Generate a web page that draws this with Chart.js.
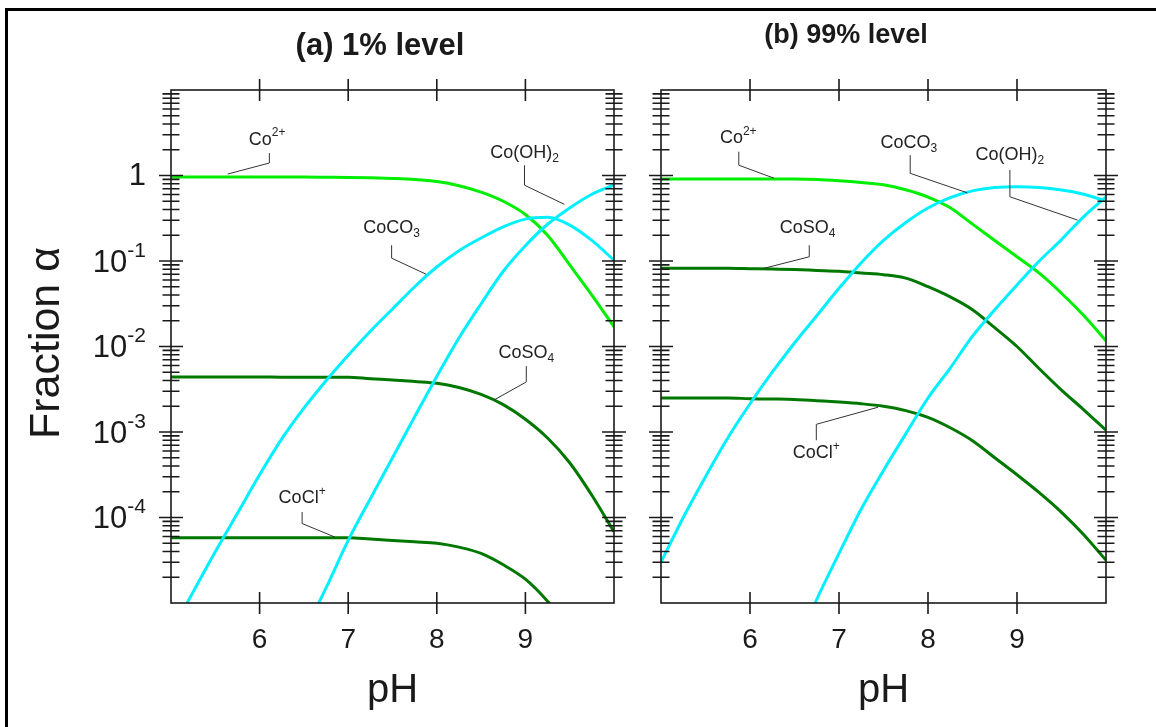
<!DOCTYPE html>
<html lang="en">
<head>
  <meta charset="UTF-8">
  <title>Co species fraction vs pH</title>
  <style>
    /* page and outer frame */
    body {
      margin: 0;
      background: #fff;
      overflow: hidden;
      width: 1156px;
      height: 727px;
    }
    .frame {
      position: absolute;
      left: 5px;
      top: 8px;
      width: 1300px;
      height: 900px;
      border-left: 3px solid #000;
      border-top: 3px solid #000;
    }
    canvas {
      position: absolute;
      top: 0;
    }
    #chartA { left: 0; }
    #chartB { left: 620px; }
  </style>
</head>
<body>
  <div class="frame"></div>
  <canvas id="chartA" width="640" height="727"></canvas>
  <canvas id="chartB" width="536" height="727"></canvas>

  <script src="https://cdn.jsdelivr.net/npm/chart.js"></script>
  <script>
    // pH grid shared by every curve
    const pH = [5, 5.25, 5.5, 5.75, 6, 6.25, 6.5, 6.75, 7, 7.25, 7.5, 7.75,
                8, 8.25, 8.5, 8.75, 9, 9.25, 9.5, 9.75, 10];

    // (a) 1% level - fraction alpha
    const co2A   = [0.96, 0.96, 0.96, 0.96, 0.96, 0.96, 0.96, 0.955, 0.95, 0.94, 0.925, 0.9,
                    0.85, 0.76, 0.64, 0.5, 0.35, 0.2, 0.09, 0.04, 0.017];
    const coco3A = [4.5e-6, 1.35e-5, 3.98e-5, 1.12e-4, 3.16e-4, 8.3e-4, 1.9e-3, 3.98e-3, 7.9e-3, 0.0151, 0.0275, 0.05,
                    0.085, 0.132, 0.186, 0.251, 0.309, 0.324, 0.263, 0.174, 0.102];
    const cooh2A = [null, null, null, null, null, null, 4.5e-6, 1.5e-5, 5.4e-5, 1.66e-4, 5.0e-4, 1.51e-3,
                    4.47e-3, 0.0126, 0.0316, 0.0759, 0.151, 0.269, 0.417, 0.603, 0.776];
    const cosoA  = [4.4e-3, 4.4e-3, 4.4e-3, 4.4e-3, 4.4e-3, 4.37e-3, 4.37e-3, 4.37e-3, 4.37e-3, 4.2e-3, 4.07e-3, 3.9e-3,
                    3.72e-3, 3.31e-3, 2.75e-3, 2.09e-3, 1.41e-3, 8.5e-4, 4.37e-4, 1.82e-4, 6.8e-5];
    const coclA  = [5.8e-5, 5.8e-5, 5.8e-5, 5.8e-5, 5.8e-5, 5.8e-5, 5.8e-5, 5.8e-5, 5.8e-5, 5.6e-5, 5.4e-5, 5.2e-5,
                    5.0e-5, 4.5e-5, 3.8e-5, 2.8e-5, 1.9e-5, 1.05e-5, 5e-6, null, null];

    // (b) 99% level
    const co2B   = [0.91, 0.91, 0.91, 0.91, 0.91, 0.91, 0.91, 0.9, 0.87, 0.83, 0.78, 0.68,
                    0.56, 0.42, 0.27, 0.174, 0.112, 0.072, 0.042, 0.023, 0.0117];
    const coco3B = [3.0e-5, 1e-4, 3.0e-4, 8.5e-4, 2.14e-3, 5.0e-3, 0.011, 0.0229, 0.0479, 0.0955, 0.174, 0.282,
                    0.417, 0.55, 0.661, 0.724, 0.741, 0.724, 0.676, 0.603, 0.501];
    const cooh2B = [null, null, null, null, null, null, 2.8e-6, 1.1e-5, 3.8e-5, 1.26e-4, 3.55e-4, 9.5e-4,
                    2.5e-3, 5.6e-3, 0.0132, 0.0269, 0.0525, 0.1, 0.178, 0.331, 0.562];
    const cosoB  = [0.0822, 0.0822, 0.0822, 0.0822, 0.0813, 0.0804, 0.0794, 0.0776, 0.0759, 0.0724, 0.0692, 0.0631,
                    0.0501, 0.038, 0.0269, 0.0166, 0.01, 0.0055, 0.00309, 0.00182, 0.00105];
    const coclB  = [2.5e-3, 2.5e-3, 2.5e-3, 2.5e-3, 2.45e-3, 2.43e-3, 2.4e-3, 2.32e-3, 2.24e-3, 2.14e-3, 2.0e-3, 1.78e-3,
                    1.48e-3, 1.12e-3, 7.9e-4, 5.0e-4, 3.16e-4, 1.95e-4, 1.15e-4, 6.3e-5, 3.16e-5];

    // axis ticks
    const xTicks = [6, 7, 8, 9];
    const yLabelExps = [0, -1, -2, -3, -4];

    // colours
    const LIME = '#00ee00';
    const CYAN = '#00f0ff';
    const DARK = '#007800';
    const FONT = '"Liberation Sans", Arial, sans-serif';

    // species labels with leader lines, positions in data units [pH, alpha]
    const notesA = [
      { parts: [['Co'], ['2+', 'sup']], at: [6.085, 2.6], path: [[6.11, 1.83], [6.11, 1.4], [5.64, 1.04]] },
      { parts: [['Co(OH)'], ['2', 'sub']], at: [8.99, 1.83], path: [[8.99, 1.32], [8.99, 0.77], [9.44, 0.46]] },
      { parts: [['CoCO'], ['3', 'sub']], at: [7.49, 0.243], path: [[7.49, 0.153], [7.49, 0.108], [7.88, 0.07]] },
      { parts: [['CoSO'], ['4', 'sub']], at: [9.01, 8.36e-3], path: [[9.01, 5.9e-3], [9.01, 3.85e-3], [8.64, 2.35e-3]] },
      { parts: [['CoCl'], ['+', 'sup']], at: [6.48, 1.68e-4], path: [[6.48, 1.16e-4], [6.48, 8.5e-5], [6.85, 5.9e-5]] }
    ];
    const notesB = [
      { parts: [['Co'], ['2+', 'sup']], at: [5.868, 2.74], path: [[5.874, 1.9], [5.874, 1.32], [6.27, 0.93]] },
      { parts: [['CoCO'], ['3', 'sub']], at: [7.784, 2.4], path: [[7.8, 1.73], [7.8, 1.06], [8.44, 0.628]] },
      { parts: [['Co(OH)'], ['2', 'sub']], at: [8.92, 1.73], path: [[8.92, 1.16], [8.92, 0.564], [9.68, 0.301]] },
      { parts: [['CoSO'], ['4', 'sub']], at: [6.648, 0.243], path: [[6.666, 0.153], [6.666, 0.112], [6.15, 0.0818]] },
      { parts: [['CoCl'], ['+', 'sup']], at: [6.745, 5.65e-4], path: [[6.745, 8.0e-4], [6.745, 1.23e-3], [7.44, 1.95e-3]] }
    ];

    // draws text made of normal / sup / sub runs, centred on (cx, cy)
    function drawRich(ctx, parts, cx, cy, size) {
      const small = Math.round(size * 0.68);
      let total = 0;
      parts.forEach(p => {
        ctx.font = (p[1] ? small : size) + 'px ' + FONT;
        total += ctx.measureText(p[0]).width;
      });
      let x = cx - total / 2;
      ctx.textAlign = 'left';
      ctx.textBaseline = 'middle';
      parts.forEach(p => {
        ctx.font = (p[1] ? small : size) + 'px ' + FONT;
        let dy = 0;
        if (p[1] === 'sup') dy = -size * 0.38;
        if (p[1] === 'sub') dy = size * 0.3;
        ctx.fillText(p[0], x, cy + dy);
        x += ctx.measureText(p[0]).width;
      });
    }

    // box, crossing ticks, labels and species notes
    const framePlugin = {
      id: 'frame',
      afterDatasetsDraw(chart, args, opts) {
        const { ctx, chartArea: a, scales: { x, y } } = chart;
        ctx.save();
        ctx.strokeStyle = '#1a1a1a';
        ctx.lineWidth = 1.6;
        ctx.strokeRect(a.left, a.top, a.right - a.left, a.bottom - a.top);

        ctx.beginPath();
        for (let d = -5; d <= 0; d++) {
          for (let k = 1; k <= 9; k++) {
            if (d === -5 && k === 1) continue;
            const py = y.getPixelForValue(k * Math.pow(10, d));
            const h = k === 1 ? 12 : 8.5;
            [a.left, a.right].forEach(px => {
              ctx.moveTo(px - h, py);
              ctx.lineTo(px + h, py);
            });
          }
        }
        xTicks.forEach(t => {
          const px = x.getPixelForValue(t);
          ctx.moveTo(px, a.top - 11);
          ctx.lineTo(px, a.top + 11);
          ctx.moveTo(px, a.bottom - 11);
          ctx.lineTo(px, a.bottom + 11);
        });
        ctx.stroke();

        // x tick labels and title
        ctx.fillStyle = '#1a1a1a';
        ctx.textAlign = 'center';
        ctx.textBaseline = 'middle';
        ctx.font = '28px ' + FONT;
        xTicks.forEach(t => ctx.fillText(String(t), x.getPixelForValue(t), a.bottom + 37));
        ctx.font = '40px ' + FONT;
        ctx.fillText('pH', (a.left + a.right) / 2, a.bottom + 88);

        // panel title
        ctx.font = 'bold ' + opts.titleSize + 'px ' + FONT;
        ctx.fillText(opts.title, opts.titleX, opts.titleY);

        // y tick labels + axis title only on the left panel
        if (opts.yLabels) {
          const right = a.left - 25;
          yLabelExps.forEach(e => {
            const py = y.getPixelForValue(Math.pow(10, e));
            ctx.textAlign = 'right';
            if (e === 0) {
              ctx.font = '31px ' + FONT;
              ctx.fillText('1', right, py + 1);
            } else {
              ctx.font = '21px ' + FONT;
              const sup = String(e);
              const w = ctx.measureText(sup).width;
              ctx.fillText(sup, right, py - 10);
              ctx.font = '31px ' + FONT;
              ctx.fillText('10', right - w, py + 2);
            }
          });
          ctx.save();
          ctx.translate(47, 343);
          ctx.rotate(-Math.PI / 2);
          ctx.textAlign = 'center';
          ctx.font = '43px ' + FONT;
          ctx.fillText('Fraction \u03b1', 0, 0);
          ctx.restore();
        }

        // species notes
        ctx.strokeStyle = '#333';
        ctx.lineWidth = 1;
        ctx.fillStyle = '#222';
        opts.notes.forEach(n => {
          ctx.beginPath();
          n.path.forEach((p, i) => {
            const px = x.getPixelForValue(p[0]);
            const py = y.getPixelForValue(p[1]);
            if (i === 0) ctx.moveTo(px, py); else ctx.lineTo(px, py);
          });
          ctx.stroke();
          drawRich(ctx, n.parts, x.getPixelForValue(n.at[0]), y.getPixelForValue(n.at[1]), 18);
        });
        ctx.restore();
      }
    };

    function series(values, color) {
      return {
        data: values,
        borderColor: color,
        backgroundColor: color,
        borderWidth: 3,
        pointRadius: 0,
        fill: false,
        cubicInterpolationMode: 'monotone'
      };
    }

    function makeChart(id, sets, padding, frameOpts) {
      return new Chart(document.getElementById(id), {
        type: 'line',
        data: { labels: pH, datasets: sets },
        options: {
          responsive: false,
          animation: false,
          layout: { padding: padding },
          scales: {
            x: { type: 'linear', min: 5, max: 10, display: false },
            y: { type: 'logarithmic', min: 1e-5, max: 10, display: false }
          },
          plugins: {
            legend: { display: false },
            tooltip: { enabled: false },
            frame: frameOpts
          }
        },
        plugins: [framePlugin]
      });
    }

    function toPoints(values) {
      return values.map((v, i) => ({ x: pH[i], y: v }));
    }

    makeChart('chartA', [
      series(toPoints(coco3A), CYAN),
      series(toPoints(cooh2A), CYAN),
      series(toPoints(cosoA), DARK),
      series(toPoints(coclA), DARK),
      series(toPoints(co2A), LIME)
    ], { left: 171, top: 90, right: 26, bottom: 124 },
    { title: '(a) 1% level', titleX: 380, titleY: 46, titleSize: 31, yLabels: true, notes: notesA });

    makeChart('chartB', [
      series(toPoints(coco3B), CYAN),
      series(toPoints(cooh2B), CYAN),
      series(toPoints(cosoB), DARK),
      series(toPoints(coclB), DARK),
      series(toPoints(co2B), LIME)
    ], { left: 41, top: 90, right: 50, bottom: 124 },
    { title: '(b) 99% level', titleX: 226, titleY: 36, titleSize: 27, yLabels: false, notes: notesB });
  </script>
</body>
</html>
